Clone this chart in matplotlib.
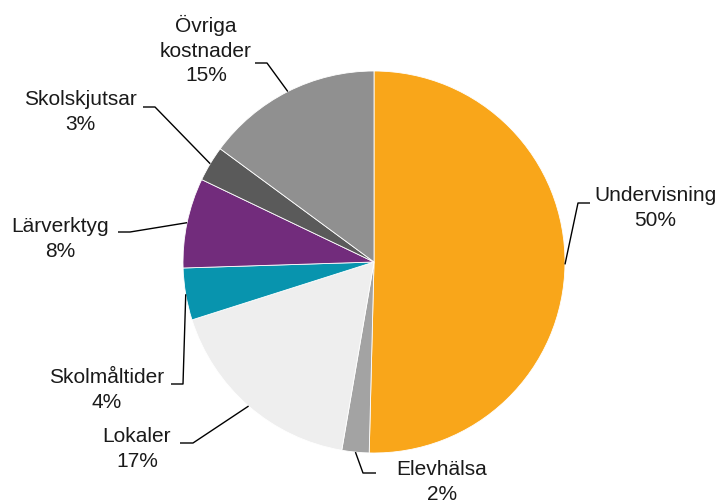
import numpy as np
import matplotlib
matplotlib.use("Agg")
import matplotlib.pyplot as plt

# Cost shares (percent), clockwise from 12 o'clock
categories = ["Undervisning", "Elevhälsa", "Lokaler", "Skolmåltider",
              "Lärverktyg", "Skolskjutsar", "Övriga\nkostnader"]
shares = [50.4, 2.3, 17.4, 4.4, 7.6, 3.0, 14.9]
pct_labels = ["50%", "2%", "17%", "4%", "8%", "3%", "15%"]
colors = ["#F9A61A", "#A3A3A3", "#EEEEEE", "#0894AE",
          "#722C7C", "#5A5A5A", "#909090"]

W, H = 718, 501
CX, CY, R = 374, 262, 191  # pie centre / radius in pixels (top origin)

# label layout: (elbow x, elbow y, end x, text x, text y) in pixels, top origin
layout = [
    (578, 203, 590, 655, 208),
    (363, 473, 376, 442, 482),
    (193, 443, 180, 137, 449),
    (183, 384, 171, 107, 390),
    (130, 232, 118, 60, 239),
    (155, 107, 143, 80, 112),
    (267, 63, 255, 206, 50),
]

plt.rcParams["font.family"] = ["Liberation Sans", "DejaVu Sans"]

fig = plt.figure(figsize=(W / 100, H / 100), dpi=100)
ax = fig.add_axes([0, 0, 1, 1])

wedges, _ = ax.pie(shares, colors=colors, startangle=90, counterclock=False,
                   center=(CX, H - CY), radius=R,
                   wedgeprops=dict(edgecolor="white", linewidth=0.6))
ax.set_xlim(0, W)
ax.set_ylim(0, H)
ax.set_aspect("equal")
ax.axis("off")

for w, cat, pct, (ex, ey, hx, tx, ty) in zip(wedges, categories, pct_labels, layout):
    mid = np.deg2rad((w.theta1 + w.theta2) / 2)
    ax0 = CX + R * np.cos(mid)
    ay0 = (H - CY) + R * np.sin(mid)
    ax.plot([ax0, ex, hx], [ay0, H - ey, H - ey], color="black", lw=1.0,
            solid_capstyle="butt")
    ax.text(tx, H - ty, f"{cat}\n{pct}", ha="center", va="center",
            multialignment="center", fontsize=15, linespacing=1.35,
            color="#1a1a1a")

fig.savefig("out.png", dpi=100)
